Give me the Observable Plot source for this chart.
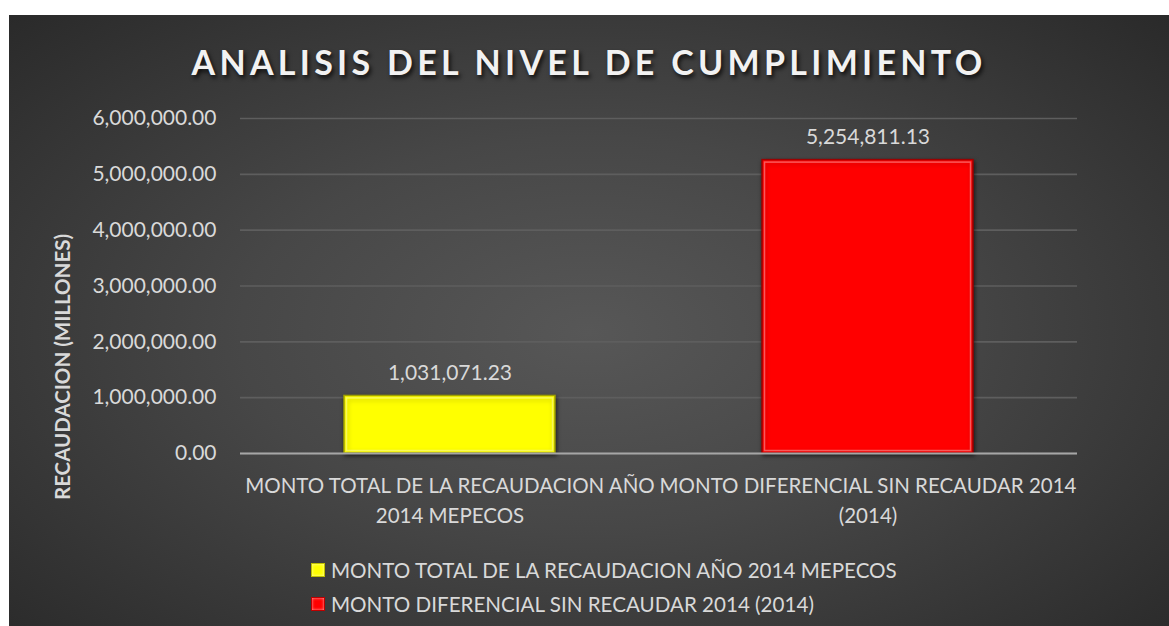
<!DOCTYPE html>
<html>
<head>
<meta charset="utf-8">
<script src="https://cdn.jsdelivr.net/npm/d3@7"></script>
<script src="https://cdn.jsdelivr.net/npm/@observablehq/plot@0.6"></script>
<style>
  html, body { margin: 0; padding: 0; background: #fff; }
  #chart {
    position: absolute; left: 9px; top: 15px; width: 1160px; height: 611px;
    background: radial-gradient(ellipse 75% 80% at 50% 52%, #575757 0%, #474747 40%, #262626 100%);
    font-family: Lato, "Open Sans", sans-serif; overflow: hidden;
  }
  #chart svg { position: absolute; left: 0; top: 0; }
  #title {
    position: absolute; left: 0; width: 100%; top: 26px; text-align: center;
    font-size: 34px; font-weight: bold; letter-spacing: 4.3px; color: #f2f2f2;
    text-shadow: 2px 3px 4px rgba(0,0,0,0.75);
  }
  #ytitle {
    position: absolute; left: 53px; top: 352px; transform: translate(-50%, -50%) rotate(-90deg);
    white-space: nowrap; font-size: 20.5px; font-weight: bold; color: #d9d9d9;
  }
  .leg { position: absolute; left: 302px; font-size: 20.6px; color: #d9d9d9; white-space: nowrap; display: flex; align-items: center; }
  .leg span.sw { display: inline-block; width: 12px; height: 12px; margin-right: 6px; border: 1px solid rgba(0,0,0,0.25); box-shadow: inset 0 0 3px rgba(255,255,255,0.7); }
</style>
</head>
<body>
<div id="chart">
  <div id="title">ANALISIS DEL NIVEL DE CUMPLIMIENTO</div>
  <div id="ytitle">RECAUDACION (MILLONES)</div>
</div>
<script>
const categories = ["MONTO TOTAL DE LA RECAUDACION AÑO 2014 MEPECOS", "MONTO DIFERENCIAL SIN RECAUDAR 2014 (2014)"];
const axisLabels = ["MONTO TOTAL DE LA RECAUDACION AÑO\n2014 MEPECOS", "MONTO DIFERENCIAL SIN RECAUDAR 2014\n(2014)"];
const values = [1031071.23, 5254811.13];
const colors = ["#ffff00", "#ff0000"];
const strokes = ["#a3a300", "#a00000"];
const yTicks = [0, 1000000, 2000000, 3000000, 4000000, 5000000, 6000000];

const data = categories.map((c, i) => ({category: c, value: values[i]}));
const fmt = d3.format(",.2f");
const labelOf = new Map(categories.map((c, i) => [c, axisLabels[i]]));

const chart = Plot.plot({
  width: 1160,
  height: 611,
  marginLeft: 231,
  marginRight: 92,
  marginTop: 103,
  marginBottom: 173,
  style: {background: "transparent", fontFamily: "Lato, 'Open Sans', sans-serif", color: "#d9d9d9"},
  x: {domain: categories, paddingInner: 0.496, paddingOuter: 0.248},
  y: {domain: [0, 6000000]},
  color: {domain: categories, range: colors},
  marks: [
    Plot.gridY(yTicks, {stroke: "#5e5e5e", strokeOpacity: 1, strokeWidth: 1.6}),
    Plot.barY(data, {x: "category", y: "value", fill: "category", stroke: d => strokes[categories.indexOf(d.category)], strokeWidth: 1.5}),
    Plot.barY(data, {x: "category", y: "value", fill: "none", stroke: "white", strokeOpacity: 0.35, strokeWidth: 1.5, insetLeft: 2.5, insetRight: 2.5, insetTop: 2.5, insetBottom: 2.5}),
    Plot.ruleY([0], {stroke: "#a6a6a6", strokeWidth: 2}),
    Plot.text(data, {x: "category", y: "value", text: d => fmt(d.value), dy: -23, fontSize: 21, fill: "#d9d9d9"}),
    Plot.axisY({ticks: yTicks, tickFormat: fmt, tickSize: 0, tickPadding: 24, fontSize: 21, fill: "#d9d9d9", label: null}),
    Plot.axisX({tickFormat: c => labelOf.get(c), tickSize: 0, tickPadding: 18, fontSize: 20.5, lineHeight: 1.47, fill: "#d9d9d9", label: null})
  ]
});
const container = document.getElementById("chart");
container.appendChild(chart);
d3.select(chart).selectAll("rect").style("filter", "drop-shadow(1px 2px 2px rgba(0,0,0,0.6))");

categories.forEach((c, i) => {
  const row = document.createElement("div");
  row.className = "leg";
  row.style.top = (543 + i * 34) + "px";
  const sw = document.createElement("span");
  sw.className = "sw";
  sw.style.background = colors[i];
  row.appendChild(sw);
  row.appendChild(document.createTextNode(c));
  container.appendChild(row);
});
</script>
</body>
</html>
